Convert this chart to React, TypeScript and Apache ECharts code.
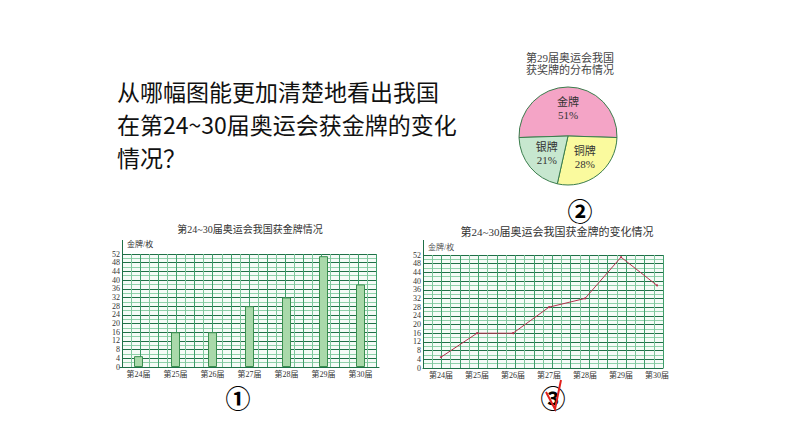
import { useEffect, useRef } from 'react'
import * as echarts from 'echarts'

const editions = ['第24届', '第25届', '第26届', '第27届', '第28届', '第29届', '第30届']
const goldMedals = [5, 16, 16, 28, 32, 51, 38]
const medalTypes = ['金牌', '铜牌', '银牌']
const medalShares = [51, 28, 21]
const medalColors = ['#f4a4c6', '#fafa9e', '#c7e7cf']

const questionLines = ['从哪幅图能更加清楚地看出我国', '在第24~30届奥运会获金牌的变化', '情况？']

const DARK = '#1f7047'
const LIGHT = '#8fd0aa'
const CJK = '"Noto Sans CJK SC", sans-serif'
const SERIF = '"Liberation Serif", "Noto Sans CJK SC", serif'

function paperY(gridIndex: number) {
  return {
    type: 'value', gridIndex, min: 0, max: 52, interval: 4,
    axisLine: { show: true, lineStyle: { color: DARK, width: 1 } },
    axisTick: { show: false },
    axisLabel: { fontSize: 8, margin: 2, color: '#333', fontFamily: SERIF },
    splitLine: { show: true, lineStyle: { color: DARK, width: 1 } },
    minorTick: { show: false, splitNumber: 2 },
    minorSplitLine: { show: true, lineStyle: { color: LIGHT, width: 1 } },
  }
}

function paperX(gridIndex: number, cells: number) {
  return {
    type: 'value', gridIndex, min: 0, max: cells, interval: 1,
    axisLine: { show: false }, axisTick: { show: false }, axisLabel: { show: false },
    splitLine: { show: true, lineStyle: { color: ['#3f9d6b', '#7fc69d'], width: 1 } },
  }
}

function catX(gridIndex: number, showLine: boolean) {
  return {
    type: 'category', gridIndex, data: editions, boundaryGap: true,
    axisLine: { show: showLine, lineStyle: { color: DARK } },
    axisTick: { show: false },
    axisLabel: { fontSize: 8, margin: 3, color: '#333', fontFamily: SERIF },
  }
}

export default function App() {
  const ref = useRef<HTMLDivElement>(null)

  useEffect(() => {
    if (!ref.current) return
    const chart = echarts.init(ref.current, null, { renderer: 'svg' })

    chart.setOption({
      animation: false,
      backgroundColor: '#fff',
      grid: [
        { left: 120, top: 254, width: 259, height: 113 },
        { left: 122, top: 254, width: 254, height: 113, show: true, backgroundColor: '#f5fbf7', borderWidth: 0 },
        { left: 423, top: 255, width: 252, height: 113 },
        { left: 423, top: 255, width: 240, height: 113, show: true, backgroundColor: '#f5fbf7', borderWidth: 0 },
      ],
      xAxis: [
        catX(0, true),
        paperX(1, 28),
        catX(2, false),
        { ...paperX(3, 26), axisLine: { show: true, onZero: false, lineStyle: { color: DARK } } },
      ],
      yAxis: [
        { type: 'value', gridIndex: 0, min: 0, max: 52, show: false },
        paperY(1),
        { type: 'value', gridIndex: 2, min: 0, max: 52, show: false },
        paperY(3),
      ],
      series: [
        {
          type: 'bar', xAxisIndex: 0, yAxisIndex: 0, data: goldMedals, barWidth: 9, z: 5,
          itemStyle: { color: '#a9d9aa', borderColor: '#3b8f50', borderWidth: 1 },
        },
        {
          type: 'line', xAxisIndex: 2, yAxisIndex: 2, data: goldMedals, z: 5,
          symbol: 'circle', symbolSize: 2,
          lineStyle: { color: '#b3304c', width: 1 },
          itemStyle: { color: '#b3304c' },
        },
        {
          type: 'pie', center: [568, 136], radius: 49, startAngle: 181.8, clockwise: true,
          data: medalTypes.map((name, i) => ({ name, value: medalShares[i], itemStyle: { color: medalColors[i] } })),
          itemStyle: { borderColor: '#3a7d4c', borderWidth: 1 },
          label: {
            position: 'inner', formatter: '{b}\n{c}%', fontSize: 11, lineHeight: 13,
            color: '#333', fontFamily: SERIF,
          },
          labelLine: { show: false },
        },
      ],
      graphic: [
        {
          type: 'text', left: 117, top: 74,
          style: { text: questionLines.join('\n'), fontSize: 23, lineHeight: 33, fill: '#111', fontFamily: CJK },
        },
        {
          type: 'text', x: 570, y: 64,
          style: { text: '第29届奥运会我国\n获奖牌的分布情况', fontSize: 11, lineHeight: 12, fill: '#444', align: 'center', verticalAlign: 'middle', fontFamily: SERIF },
        },
        { type: 'text', x: 250, y: 229, style: { text: '第24~30届奥运会我国获金牌情况', fontSize: 10, fill: '#333', align: 'center', verticalAlign: 'middle', fontFamily: SERIF } },
        { type: 'text', x: 557, y: 232, style: { text: '第24~30届奥运会我国获金牌的变化情况', fontSize: 11, fill: '#333', align: 'center', verticalAlign: 'middle', fontFamily: SERIF } },
        { type: 'text', x: 127, y: 244, style: { text: '金牌/枚', fontSize: 8, fill: '#333', verticalAlign: 'middle', fontFamily: SERIF } },
        { type: 'text', x: 428, y: 247, style: { text: '金牌/枚', fontSize: 8, fill: '#555', verticalAlign: 'middle', fontFamily: SERIF } },
        { type: 'line', shape: { x1: 122.5, y1: 240, x2: 122.5, y2: 254 }, style: { stroke: DARK, lineWidth: 1 } },
        { type: 'line', shape: { x1: 423.5, y1: 240, x2: 423.5, y2: 255 }, style: { stroke: DARK, lineWidth: 1 } },
        { type: 'text', x: 238, y: 397, style: { text: '①', fontSize: 25, fontWeight: 'bold', fill: '#000', align: 'center', verticalAlign: 'middle', fontFamily: CJK } },
        { type: 'text', x: 580, y: 210, style: { text: '②', fontSize: 25, fontWeight: 'bold', fill: '#000', align: 'center', verticalAlign: 'middle', fontFamily: CJK } },
        { type: 'text', x: 553, y: 397, style: { text: '③', fontSize: 25, fontWeight: 'bold', fill: '#000', align: 'center', verticalAlign: 'middle', fontFamily: CJK } },
        {
          type: 'polyline', z: 10,
          shape: { points: [[546, 392], [555, 409], [561, 380]] },
          style: { stroke: '#e0201c', lineWidth: 2, fill: 'none' },
        },
      ],
    })

    return () => chart.dispose()
  }, [])

  return <div ref={ref} style={{ position: 'absolute', left: 0, top: 0, width: 794, height: 447 }} />
}
